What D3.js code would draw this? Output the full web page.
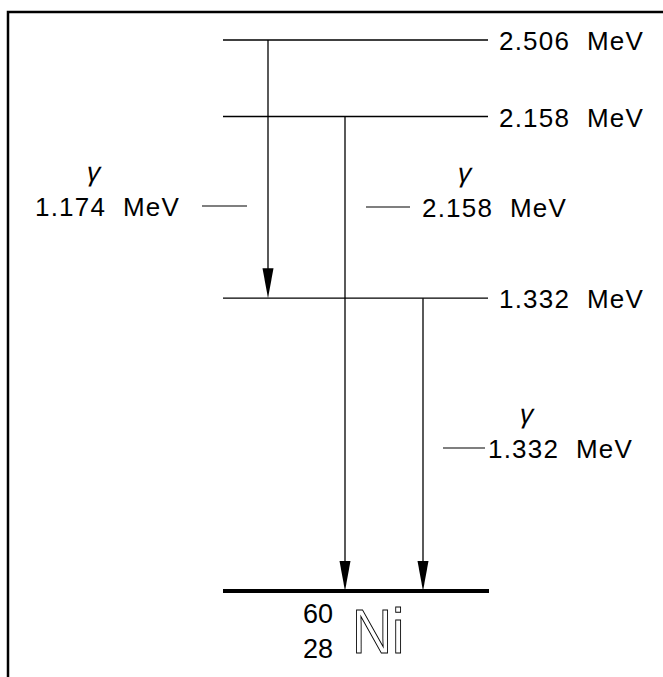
<!DOCTYPE html>
<html lang="en">
<head>
    <meta charset="UTF-8">
    <title>60Ni decay levels</title>
    <script src="https://cdn.jsdelivr.net/npm/d3@7"></script>
    <style>
        body { margin: 0; background: #fff; }
        text { font-family: "Liberation Sans", Arial, sans-serif; fill: #000; white-space: pre; }
    </style>
</head>
<body>
    <svg id="chart" width="663" height="677"></svg>

    <script>
        // level energies (MeV) and their labels
        const levels = [2.506, 2.158, 1.332];
        const levelLabels = ["2.506  MeV", "2.158  MeV", "1.332  MeV"];
        const groundLevel = 0;

        // gamma transitions: from -> to, plus label
        const gammaFrom = [2.506, 2.158, 1.332];
        const gammaTo = [1.332, 0, 0];
        const gammaLabels = ["1.174  MeV", "2.158  MeV", "1.332  MeV"];

        const svg = d3.select("#chart");

        const y = d3.scaleLinear().domain([0, 2.506]).range([591, 40]);
        const x = d3.scaleLinear().domain([0, 1]).range([223, 488]);

        const fontSize = 26;
        const spacing = 1.2;

        // frame (only top + left show in the picture)
        svg.append("path")
            .attr("d", "M8,677 V12 H663")
            .attr("fill", "none")
            .attr("stroke", "#000")
            .attr("stroke-width", 2.5);

        // level lines
        svg.selectAll(".level")
            .data(levels)
            .enter()
            .append("line")
            .attr("x1", x(0))
            .attr("x2", x(1))
            .attr("y1", d => y(d))
            .attr("y2", d => y(d))
            .attr("stroke", "#000")
            .attr("stroke-width", 1.3);

        svg.selectAll(".levelLabel")
            .data(levels)
            .enter()
            .append("text")
            .attr("x", 499)
            .attr("y", d => y(d) + 10)
            .attr("font-size", fontSize)
            .attr("letter-spacing", spacing)
            .text((d, i) => levelLabels[i]);

        // ground state
        svg.append("line")
            .attr("x1", x(0))
            .attr("x2", x(1) + 1)
            .attr("y1", y(groundLevel))
            .attr("y2", y(groundLevel))
            .attr("stroke", "#000")
            .attr("stroke-width", 4);

        // gamma arrows
        const arrowX = [268, 345, 423];
        const arrowH = 30, arrowW = 11;

        svg.selectAll(".gline")
            .data(gammaFrom)
            .enter()
            .append("line")
            .attr("x1", (d, i) => arrowX[i])
            .attr("x2", (d, i) => arrowX[i])
            .attr("y1", d => y(d))
            .attr("y2", (d, i) => y(gammaTo[i]) - arrowH + 2)
            .attr("stroke", "#000")
            .attr("stroke-width", 1.3);

        svg.selectAll(".ghead")
            .data(gammaTo)
            .enter()
            .append("path")
            .attr("d", (d, i) => {
                const tx = arrowX[i], ty = y(d);
                return `M${tx},${ty} L${tx - arrowW / 2},${ty - arrowH} L${tx + arrowW / 2},${ty - arrowH} Z`;
            })
            .attr("fill", "#000");

        // gamma labels: tick line, energy text, gamma symbol
        const tickX1 = [202, 366, 443];
        const tickX2 = [247, 410, 485];
        const tickY = [206, 207, 448];
        const textX = [35, 422, 488];
        const gammaX = [92, 463, 525];

        svg.selectAll(".gtick")
            .data(gammaLabels)
            .enter()
            .append("line")
            .attr("x1", (d, i) => tickX1[i])
            .attr("x2", (d, i) => tickX2[i])
            .attr("y1", (d, i) => tickY[i])
            .attr("y2", (d, i) => tickY[i])
            .attr("stroke", "#000")
            .attr("stroke-width", 1.2);

        svg.selectAll(".gtext")
            .data(gammaLabels)
            .enter()
            .append("text")
            .attr("x", (d, i) => textX[i])
            .attr("y", (d, i) => tickY[i] + 10)
            .attr("font-size", fontSize)
            .attr("letter-spacing", spacing)
            .text(d => d);

        svg.selectAll(".gsym")
            .data(gammaLabels)
            .enter()
            .append("text")
            .attr("transform", (d, i) => `translate(${gammaX[i]},${tickY[i] - 25}) skewX(-12)`)
            .attr("font-size", 27)
            .attr("font-family", "DejaVu Sans, sans-serif")
            .attr("font-weight", 300)
            .attr("text-anchor", "middle")
            .text("\u03B3");

        // nuclide label
        svg.append("text")
            .attr("x", 303).attr("y", 623)
            .attr("font-size", 27)
            .text("60");
        svg.append("text")
            .attr("x", 303).attr("y", 658)
            .attr("font-size", 27)
            .text("28");
        svg.append("text")
            .attr("transform", "translate(352,653) scale(0.88,1)")
            .attr("font-size", 63)
            .style("fill", "none")
            .style("stroke", "#000")
            .style("stroke-width", 1)
            .text("Ni");
    </script>
</body>
</html>
